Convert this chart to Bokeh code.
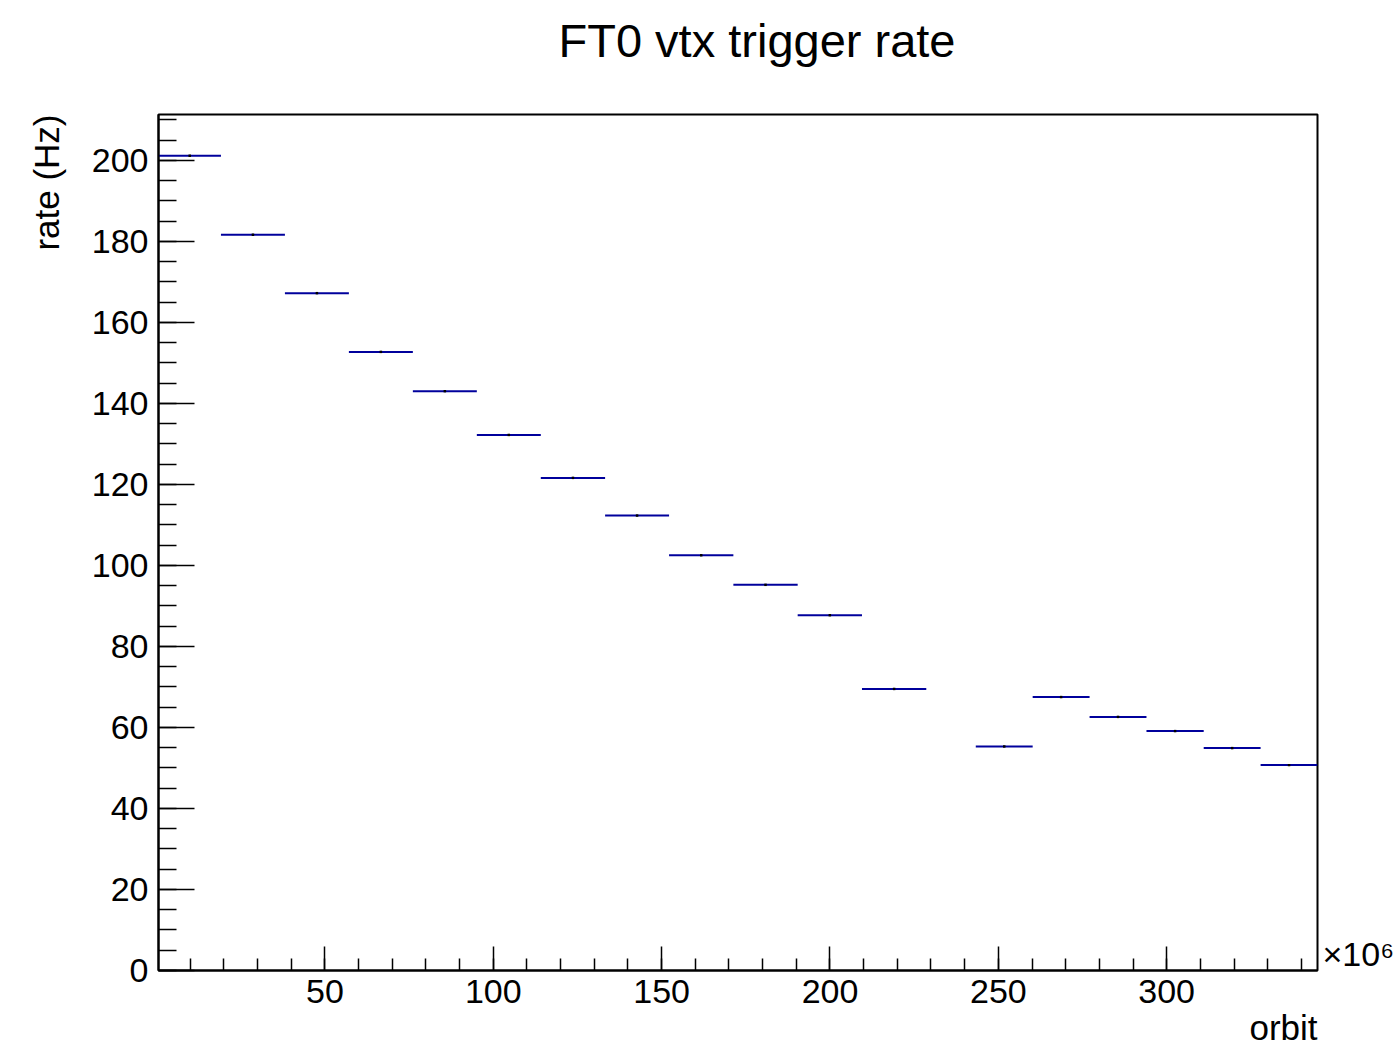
from bokeh.plotting import figure
from bokeh.models import SingleIntervalTicker, FixedTicker, LinearAxis, Range1d, Title
from bokeh.embed import file_html
from bokeh.resources import INLINE

# Data (orbit in units of 10^6, rate in Hz)
bin_lo = [0.55, 19.1, 38.1, 57.1, 76.1, 95.1, 114.1, 133.2, 152.2, 171.3, 190.4, 209.5,
          243.3, 260.2, 277.1, 294.0, 311.0, 327.9]
bin_hi = [19.1, 38.1, 57.1, 76.1, 95.1, 114.1, 133.2, 152.2, 171.3, 190.4, 209.5, 228.6,
          260.2, 277.1, 294.0, 311.0, 327.9, 344.8]
rate = [201.1, 181.6, 167.2, 152.7, 143.0, 132.2, 121.6, 112.3, 102.5, 95.2, 87.7, 69.5,
        55.3, 67.5, 62.6, 59.1, 54.9, 50.7]
rate_err = [0.3] * len(rate)

title_text = "FT0 vtx trigger rate"
x_title = "orbit"
y_title = "rate (Hz)"
x_scale_label = "×10⁶"

FONT = "Liberation Sans"
BLUE = "#00009c"

X0, X1 = 0.55, 344.8
Y0, Y1 = 0.0, 211.3

p = figure(width=1400, height=1047, output_backend="svg", toolbar_location=None,
           x_range=Range1d(X0, X1), y_range=Range1d(Y0, Y1),
           min_border_left=158, min_border_right=83, min_border_top=114, min_border_bottom=77,
           title=title_text + "\n")
p.title.align = "left"
p.title.vertical_align = "top"
p.title.text_font = FONT
p.title.text_font_size = "47px"
p.title.text_font_style = "normal"
p.title.text_color = "black"
p.title.text_line_height = 0.8
p.title.offset = 400
p.title.standoff = 8
p.background_fill_color = "white"
p.border_fill_color = "white"
p.xgrid.visible = False
p.ygrid.visible = False
p.outline_line_color = "black"
p.outline_line_width = 2

centers = [(a + b) / 2 for a, b in zip(bin_lo, bin_hi)]
p.segment(x0=bin_lo, y0=rate, x1=bin_hi, y1=rate, line_color=BLUE, line_width=2)
p.segment(x0=centers, y0=[r - e for r, e in zip(rate, rate_err)],
          x1=centers, y1=[r + e for r, e in zip(rate, rate_err)], line_color="black", line_width=2.5)

# axes
xa = p.xaxis[0]
xa.ticker = SingleIntervalTicker(interval=50, num_minor_ticks=5)
xa.major_tick_in = 24
xa.major_tick_out = 0
xa.minor_tick_in = 12
xa.minor_tick_out = 0
xa.axis_line_width = 2
xa.major_tick_line_width = 1.5
xa.minor_tick_line_width = 1.5
xa.major_label_text_font = FONT
xa.major_label_text_font_size = "34px"
xa.major_label_text_color = "black"
xa.major_label_standoff = 9

ya = p.yaxis[0]
ya.ticker = SingleIntervalTicker(interval=20, num_minor_ticks=4)
ya.major_tick_in = 36
ya.major_tick_out = 0
ya.minor_tick_in = 18
ya.minor_tick_out = 0
ya.axis_line_width = 2
ya.major_tick_line_width = 1.5
ya.minor_tick_line_width = 1.5
ya.major_label_text_font = FONT
ya.major_label_text_font_size = "34px"
ya.major_label_text_color = "black"
ya.major_label_standoff = 10

# axis titles (right/top aligned, ROOT style)
xt = Title(text=x_title, align="right", vertical_align="bottom", standoff=0,
           text_font=FONT, text_font_size="35px", text_font_style="normal", text_color="black")
p.add_layout(xt, "below")
yt = Title(text=y_title, align="right", vertical_align="bottom", standoff=45,
           text_font=FONT, text_font_size="35px", text_font_style="normal", text_color="black")
p.add_layout(yt, "left")

# scale factor shown to the right of the x axis end
ra = LinearAxis(ticker=FixedTicker(ticks=[4]), major_label_overrides={4: x_scale_label})
ra.axis_line_color = None
ra.major_tick_line_color = None
ra.minor_tick_line_color = None
ra.major_tick_in = 0
ra.major_tick_out = 0
ra.major_label_standoff = 5
ra.major_label_text_font = FONT
ra.major_label_text_font_size = "34px"
ra.major_label_text_color = "black"
p.add_layout(ra, "right")

open("out.html", "w").write(file_html(p, INLINE))
